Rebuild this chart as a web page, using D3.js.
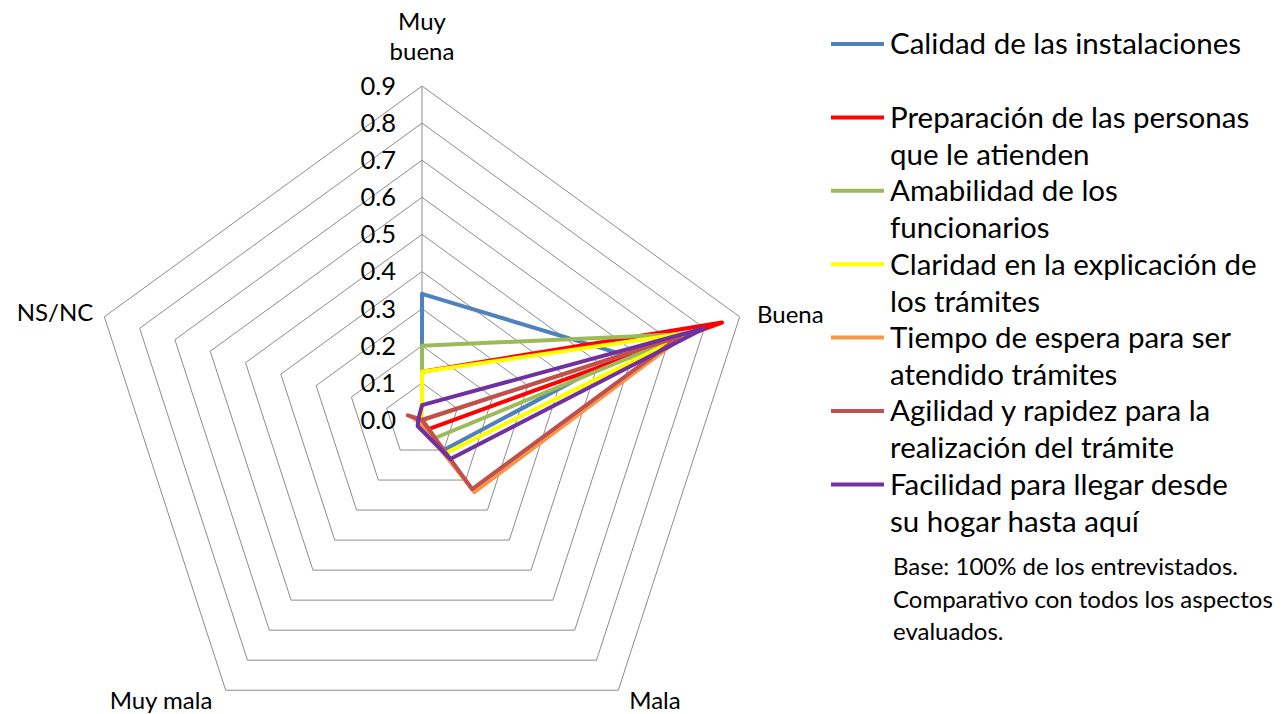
<!DOCTYPE html>
<html>
<head>
<meta charset="utf-8">
<script src="https://cdn.jsdelivr.net/npm/d3@7"></script>
<style>
  html, body { margin: 0; padding: 0; background: #ffffff; }
  svg { display: block; font-family: Lato, "Open Sans", sans-serif; }
</style>
</head>
<body>
<svg id="chart" width="1288" height="714"></svg>
<script>
// Rating categories around the radar, clockwise from the top
const categories = ["Muy buena", "Buena", "Mala", "Muy mala", "NS/NC"];
const categoryLines = [["Muy", "buena"], ["Buena"], ["Mala"], ["Muy mala"], ["NS/NC"]];

// Share of respondents per rating, one array per aspect evaluated
const calidadInstalaciones = [0.34, 0.57, 0.10, 0.01, 0.00];
const preparacionPersonas  = [0.13, 0.85, 0.03, 0.00, 0.00];
const amabilidadFuncionarios = [0.20, 0.75, 0.06, 0.00, 0.00];
const claridadExplicacion  = [0.13, 0.76, 0.11, 0.01, 0.00];
const tiempoEspera         = [0.00, 0.75, 0.24, 0.01, 0.03];
const agilidadRapidez      = [0.00, 0.73, 0.23, 0.00, 0.04];
const facilidadLlegar      = [0.04, 0.80, 0.13, 0.02, 0.01];

const seriesNames = [
  ["Calidad de las instalaciones"],
  ["Preparación de las personas", "que le atienden"],
  ["Amabilidad de los", "funcionarios"],
  ["Claridad en la explicación de", "los trámites"],
  ["Tiempo de espera para ser", "atendido trámites"],
  ["Agilidad y rapidez para la", "realización del trámite"],
  ["Facilidad para llegar desde", "su hogar hasta aquí"]
];
const seriesValues = [
  calidadInstalaciones, preparacionPersonas, amabilidadFuncionarios,
  claridadExplicacion, tiempoEspera, agilidadRapidez, facilidadLlegar
];
const seriesColors = ["#4F81BD", "#FF0000", "#9BBB59", "#FFFF00", "#F79646", "#C0504D", "#7030A0"];

const tickValues = [0.0, 0.1, 0.2, 0.3, 0.4, 0.5, 0.6, 0.7, 0.8, 0.9];
const noteLines = ["Base: 100% de los entrevistados.", "Comparativo con todos los aspectos", "evaluados."];

const svg = d3.select("#chart");
const cx = 422, cy = 420;
const r = d3.scaleLinear().domain([0, 0.9]).range([0, 334]);
const angle = d3.scaleLinear().domain([0, categories.length]).range([0, 2 * Math.PI]);

const point = (i, v) => [cx + r(v) * Math.sin(angle(i)), cy - r(v) * Math.cos(angle(i))];

// Concentric pentagon gridlines
const grid = svg.append("g");
tickValues.filter(t => t > 0).forEach(t => {
  const pts = categories.map((_, i) => point(i, t));
  grid.append("path")
    .attr("d", d3.line()(pts) + "Z")
    .attr("fill", "none")
    .attr("stroke", "#8c8c8c")
    .attr("stroke-width", 1);
});

// Value axis along the first category
grid.append("line")
  .attr("x1", cx).attr("y1", cy)
  .attr("x2", cx).attr("y2", cy - r(0.9))
  .attr("stroke", "#8c8c8c").attr("stroke-width", 1);

// Tick labels
svg.append("g").selectAll("text")
  .data(tickValues)
  .join("text")
  .attr("x", cx - 26)
  .attr("y", d => cy - r(d))
  .attr("dy", "0.35em")
  .attr("text-anchor", "end")
  .attr("font-size", 25.5)
  .attr("fill", "#000")
  .text(d => d3.format(".1f")(d));

// Series polygons
const radarLine = d3.lineRadial()
  .angle((d, i) => angle(i))
  .radius(d => r(d))
  .curve(d3.curveLinearClosed);

svg.append("g")
  .attr("transform", `translate(${cx},${cy})`)
  .selectAll("path")
  .data(seriesValues)
  .join("path")
  .attr("d", d => radarLine(d))
  .attr("fill", "none")
  .attr("stroke", (d, i) => seriesColors[i])
  .attr("stroke-width", 4)
  .attr("stroke-linejoin", "round");

// Category labels
const catPos = [
  { x: cx, y: 22, anchor: "middle" },
  { x: 757, y: 315, anchor: "start" },
  { x: 655, y: 701, anchor: "middle" },
  { x: 161, y: 701, anchor: "middle" },
  { x: 55, y: 313, anchor: "middle" }
];
const catG = svg.append("g");
categoryLines.forEach((lines, i) => {
  lines.forEach((ln, j) => {
    catG.append("text")
      .attr("x", catPos[i].x)
      .attr("y", catPos[i].y + j * 30)
      .attr("dy", "0.35em")
      .attr("text-anchor", catPos[i].anchor)
      .attr("font-size", 24)
      .attr("fill", "#000")
      .text(ln);
  });
});

// Legend
const legend = svg.append("g");
const legendTop = 44, legendStep = 73.4, lineStep = 37;
seriesNames.forEach((lines, i) => {
  const y = legendTop + i * legendStep;
  legend.append("line")
    .attr("x1", 831).attr("x2", 884)
    .attr("y1", y).attr("y2", y)
    .attr("stroke", seriesColors[i])
    .attr("stroke-width", 4);
  lines.forEach((ln, j) => {
    legend.append("text")
      .attr("x", 890)
      .attr("y", y + j * lineStep)
      .attr("dy", "0.35em")
      .attr("font-size", 29.5)
      .attr("fill", "#000")
      .text(ln);
  });
});

// Footnote
svg.append("g").selectAll("text")
  .data(noteLines)
  .join("text")
  .attr("x", 893)
  .attr("y", (d, i) => 567 + i * 32.5)
  .attr("dy", "0.35em")
  .attr("font-size", 24)
  .attr("fill", "#000")
  .text(d => d);
</script>
</body>
</html>
